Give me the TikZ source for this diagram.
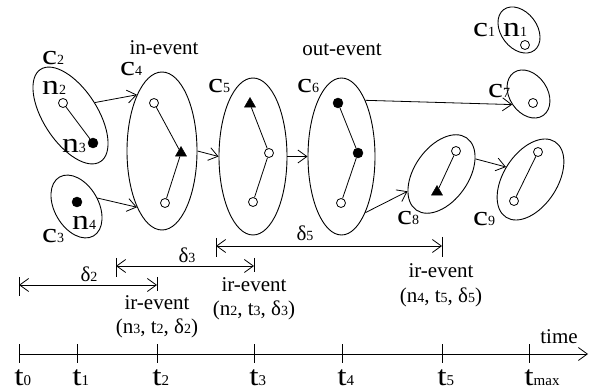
\documentclass[tikz,border=0pt]{standalone}
\usepackage{fontspec}
\setmainfont{Liberation Serif}
\newfontfamily\bigfam[FakeStretch=1.2]{Liberation Serif}
\usetikzlibrary{shapes.geometric,arrows.meta}
\newcommand\bigsym[2]{{\bigfam\fontsize{28}{30}\selectfont #1}{\fontsize{14}{16}\selectfont #2}}
\newcommand\medtxt{\fontsize{21}{23}\selectfont}
\newcommand\medsub[1]{{\fontsize{14}{16}\selectfont #1}}
\newcommand\tlab[1]{{\bigfam\fontsize{28}{30}\selectfont t}\rlap{\fontsize{15}{17}\selectfont #1}}
\tikzset{
  grp/.style={draw, ellipse, inner sep=0pt, line width=0.9pt},
  opn/.style={circle, draw, fill=white, minimum size=9pt, inner sep=0pt, line width=0.8pt},
  fil/.style={circle, draw, fill=black, minimum size=10pt, inner sep=0pt},
  tri/.style={regular polygon, regular polygon sides=3, draw, fill=black, minimum size=13pt, inner sep=0pt},
  link/.style={line width=0.8pt},
  flow/.style={-{Straight Barb[length=9pt,width=13pt]}, line width=0.8pt},
  dimarr/.style={{Straight Barb[length=9pt,width=13pt]}-{Straight Barb[length=9pt,width=13pt]}, line width=0.8pt},
  lbl/.style={inner sep=0pt, anchor=base west},
  mid/.style={inner sep=0pt, anchor=base, font=\medtxt},
  tax/.style={inner sep=0pt, anchor=base},
}
\begin{document}
\begin{tikzpicture}[x=1pt,y=-1pt]
\useasboundingbox (0,0) rectangle (592,390);
% groups
\node[grp, rotate=-53, minimum width=51pt, minimum height=36pt] (c1) at (519,30) {};
\node[grp, rotate=-57, minimum width=110pt, minimum height=54pt] (c2) at (70.5,115.5) {};
\node[grp, rotate=-60, minimum width=68pt, minimum height=44pt] (c3) at (76.5,206.5) {};
\node[grp, minimum width=70pt, minimum height=158pt] (c4) at (162,151) {};
\node[grp, minimum width=68pt, minimum height=157pt] (c5) at (253,156.5) {};
\node[grp, minimum width=67pt, minimum height=157pt] (c6) at (341.5,156.5) {};
\node[grp, rotate=-56, minimum width=52pt, minimum height=38pt] (c7) at (528.5,94) {};
\node[grp, rotate=55, minimum width=88pt, minimum height=54pt] (c8) at (441.5,174) {};
\node[grp, rotate=57, minimum width=90pt, minimum height=54pt] (c9) at (530.5,179.5) {};
% members
\node[opn] (p1) at (525,45) {};
\node[opn] (p2) at (63,103) {};
\node[fil] (p3) at (93,143) {};
\node[fil] (p4) at (77,202) {};
\node[opn] (q1) at (154,103) {};
\node[tri] (q2) at (181,153) {};
\node[opn] (q3) at (165,203) {};
\node[tri] (r1) at (250,104) {};
\node[opn] (r2) at (269,153) {};
\node[opn] (r3) at (253,202) {};
\node[fil] (s1) at (338,103) {};
\node[fil] (s2) at (358,153) {};
\node[opn] (s3) at (341,203) {};
\node[opn] (u1) at (533,103) {};
\node[opn] (v1) at (456,151) {};
\node[tri] (v2) at (437,192) {};
\node[opn] (w1) at (538,152) {};
\node[opn] (w2) at (514,201) {};
\draw[link] (p2) -- (p3);
\draw[link] (q1) -- (q2) -- (q3);
\draw[link] (r1) -- (r2) -- (r3);
\draw[link] (s1) -- (s2) -- (s3);
\draw[link] (v1) -- (v2);
\draw[link] (w1) -- (w2);
% flows
\draw[flow] (c2.85) -- (c4.114);
\draw[flow] (c3.82) -- (c4.246);
\draw[flow] (c4.east) -- (c5.west);
\draw[flow] (c5.east) -- (c6.west);
\draw[flow] (c6.67) -- (c7.269);
\draw[flow] (c6.293) -- (c8.152);
\draw[flow] (c8.329) -- (c9.96);
% labels
\node[lbl] (lc1) at (473,37) {\bigsym{c}{1}};
\node[lbl] (ln1) at (503,37) {\bigsym{n}{1}};
\node[lbl] (lc2) at (42,65) {\bigsym{c}{2}};
\node[lbl] (ln2) at (42,95) {\bigsym{n}{2}};
\node[lbl] (ln3) at (62,153) {\bigsym{n}{3}};
\node[lbl] (lc3) at (42,243) {\bigsym{c}{3}};
\node[lbl] (ln4) at (72,230) {\bigsym{n}{4}};
\node[lbl] (lc4) at (120,76) {\bigsym{c}{4}};
\node[lbl] (lc5) at (208,93) {\bigsym{c}{5}};
\node[lbl] (lc6) at (297,93) {\bigsym{c}{6}};
\node[lbl] (lc7) at (488,98) {\bigsym{c}{7}};
\node[lbl] (lc8) at (397,225) {\bigsym{c}{8}};
\node[lbl] (lc9) at (473,226) {\bigsym{c}{9}};
\node[mid] (ein) at (164,55) {in-event};
\node[mid] (eout) at (342,56) {out-event};
% intervals
\coordinate (d2a) at (19,285); \coordinate (d2b) at (157,285);
\coordinate (d3a) at (116,266); \coordinate (d3b) at (254,266);
\coordinate (d5a) at (216,246); \coordinate (d5b) at (442,246);
\draw[line width=0.8pt] (19,277) -- (19,296) (157,277) -- (157,291);
\draw[line width=0.8pt] (116,258) -- (116,277) (254,258) -- (254,272);
\draw[line width=0.8pt] (216,238) -- (216,257) (442,237) -- (442,257);
\draw[dimarr] (d2a) -- (d2b);
\draw[dimarr] (d3a) -- (d3b);
\draw[dimarr] (d5a) -- (d5b);
\node[mid] (dl2) at (89,282) {δ\medsub{2}};
\node[mid] (dl3) at (187,262) {δ\medsub{3}};
\node[mid] (dl5) at (305,241) {δ\medsub{5}};
\node[mid] (ir2) at (157,309) {ir-event};
\node[mid] (ia2) at (157,334) {(n\medsub{3}, t\medsub{2}, δ\medsub{2})};
\node[mid] (ir3) at (254,291) {ir-event};
\node[mid] (ia3) at (254,316) {(n\medsub{2}, t\medsub{3}, δ\medsub{3})};
\node[mid] (ir5) at (441,278) {ir-event};
\node[mid] (ia5) at (441,302) {(n\medsub{4}, t\medsub{5}, δ\medsub{5})};
% time axis
\coordinate (ax0) at (19,354); \coordinate (ax1) at (588,354);
\draw[flow] (ax0) -- (ax1);
\foreach \x in {19,77,157,254,342,442,529} \draw[line width=0.8pt] (\x,344) -- (\x,363);
\node[mid] (tt) at (559,343) {time};
\node[tax] (t0) at (19,385) {\tlab{0}};
\node[tax] (t1) at (77,385) {\tlab{1}};
\node[tax] (t2) at (157,385) {\tlab{2}};
\node[tax] (t3) at (254,385) {\tlab{3}};
\node[tax] (t4) at (342,385) {\tlab{4}};
\node[tax] (t5) at (442,385) {\tlab{5}};
\node[tax] (tm) at (529,385) {\tlab{max}};
\end{tikzpicture}
\end{document}
